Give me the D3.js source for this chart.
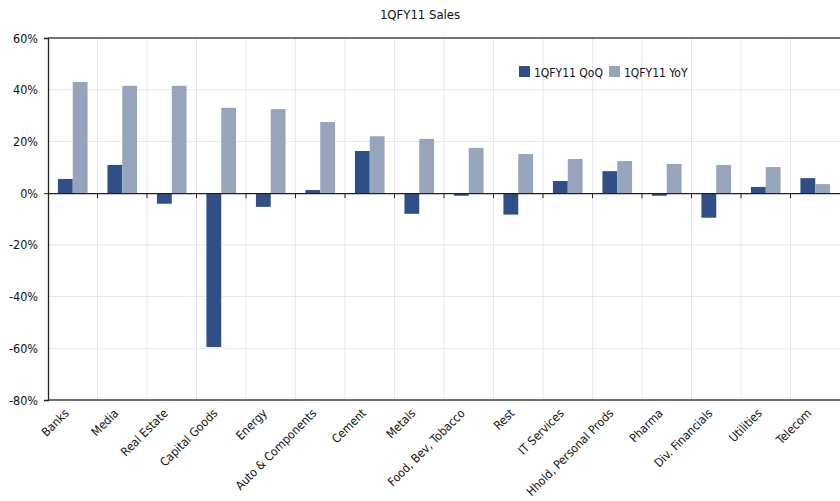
<!DOCTYPE html>
<html>
<head>
<meta charset="utf-8">
<script src="https://cdn.jsdelivr.net/npm/d3@7"></script>
<style>
  body { margin: 0; background: #fff; }
  text { font-family: "DejaVu Sans Condensed", "Liberation Sans Narrow", sans-serif; font-stretch: condensed; fill: #111; }
</style>
</head>
<body>
<svg id="chart" width="840" height="501"></svg>
<script>
// sector sales growth, 1QFY11
var categories = ["Banks", "Media", "Real Estate", "Capital Goods", "Energy", "Auto & Components",
    "Cement", "Metals", "Food, Bev, Tobacco", "Rest", "IT Services", "Hhold, Personal Prods",
    "Pharma", "Div. Financials", "Utilities", "Telecom"];
var qoq = [5.5, 10.9, -4.1, -59.5, -5.3, 1.2, 16.3, -8.0, -1.0, -8.3, 4.7, 8.5, -1.0, -9.5, 2.4, 5.8];
var yoy = [43.0, 41.5, 41.5, 33.0, 32.5, 27.5, 22.0, 21.0, 17.5, 15.1, 13.2, 12.4, 11.3, 10.9, 10.1, 3.5];
var seriesNames = ["1QFY11 QoQ", "1QFY11 YoY"];
var yTicks = [60, 40, 20, 0, -20, -40, -60, -80];
var colors = ["#2f4f86", "#96a5bb"];

var svg = d3.select("#chart"),
    plotLeft = 48, plotRight = 840, plotTop = 38, plotBottom = 400;

var x = d3.scaleBand().domain(categories).range([plotLeft, plotRight]);
var xs = d3.scaleBand().domain([0, 1]).range([0, x.bandwidth()]).paddingInner(0).paddingOuter(0.67);
var y = d3.scaleLinear().domain([-80, 60]).range([plotBottom, plotTop]);

svg.append("text")
    .attr("x", 420).attr("y", 19)
    .attr("text-anchor", "middle")
    .style("font-size", "13px")
    .text("1QFY11 Sales");

// grid
svg.append("g").selectAll("line")
    .data(yTicks.filter(function(d) { return d != 0 && d != 60 && d != -80; }))
    .enter().append("line")
    .attr("x1", plotLeft).attr("x2", plotRight)
    .attr("y1", function(d) { return y(d); }).attr("y2", function(d) { return y(d); })
    .attr("stroke", "#e4e8e8");

svg.append("g").selectAll("line")
    .data(categories.slice(1))
    .enter().append("line")
    .attr("x1", function(d) { return x(d); }).attr("x2", function(d) { return x(d); })
    .attr("y1", plotTop).attr("y2", plotBottom)
    .attr("stroke", "#e4e8e8");

// y axis
var yAxis = d3.axisLeft(y).tickValues(yTicks).tickSize(4).tickPadding(6)
    .tickFormat(function(d) { return d + "%"; });
var ya = svg.append("g").attr("transform", "translate(" + plotLeft + ",0)").call(yAxis);
ya.attr("font-family", null).attr("font-size", null);
ya.select(".domain").attr("stroke", "#222").attr("stroke-width", 1.3);
ya.selectAll(".tick line").attr("stroke", function(d) { return (d == 60 || d == 0 || d == -80) ? "#222" : "none"; });
ya.selectAll(".tick text").style("font-size", "12.5px").attr("fill", "#111");

// bars
var groups = svg.append("g").selectAll("g")
    .data(categories)
    .enter().append("g")
    .attr("transform", function(d) { return "translate(" + x(d) + ",0)"; });

groups.selectAll("rect")
    .data(function(d, i) { return [qoq[i], yoy[i]]; })
    .enter().append("rect")
    .attr("x", function(d, j) { return xs(j); })
    .attr("width", xs.bandwidth())
    .attr("y", function(d) { return y(Math.max(0, d)); })
    .attr("height", function(d) { return Math.abs(y(d) - y(0)); })
    .attr("fill", function(d, j) { return colors[j]; });

// top / bottom frame lines
svg.append("line").attr("x1", plotLeft).attr("x2", plotRight).attr("y1", plotTop).attr("y2", plotTop)
    .attr("stroke", "#444").attr("stroke-width", 1.6);
svg.append("line").attr("x1", plotLeft).attr("x2", plotRight).attr("y1", plotBottom).attr("y2", plotBottom)
    .attr("stroke", "#444").attr("stroke-width", 1.6);

// zero axis with category ticks
var xAxis = d3.axisBottom(x).tickSize(0).tickFormat("");
var xa = svg.append("g").attr("transform", "translate(0," + y(0) + ")").call(xAxis);
xa.select(".domain").attr("stroke", "#222").attr("stroke-width", 1.3);
xa.selectAll(".tick").remove();
xa.selectAll(".ctick")
    .data(categories.slice(1))
    .enter().append("line")
    .attr("x1", function(d) { return x(d); }).attr("x2", function(d) { return x(d); })
    .attr("y1", 0).attr("y2", 5)
    .attr("stroke", "#222");

// category labels
svg.append("g").selectAll("text")
    .data(categories)
    .enter().append("text")
    .attr("text-anchor", "end")
    .attr("transform", function(d) {
        return "translate(" + (x(d) + x.bandwidth() / 2 - 3) + "," + (plotBottom + 14) + ") rotate(-45)";
    })
    .style("font-size", "12px")
    .text(function(d) { return d; });

// legend
var legend = svg.append("g").selectAll("g")
    .data(seriesNames)
    .enter().append("g")
    .attr("transform", function(d, i) { return "translate(" + (519 + i * 90) + ",66)"; });
legend.append("rect").attr("width", 11).attr("height", 11)
    .attr("fill", function(d, i) { return colors[i]; });
legend.append("text").attr("x", 15).attr("y", 10.5)
    .style("font-size", "12px")
    .text(function(d) { return d; });
</script>
</body>
</html>
